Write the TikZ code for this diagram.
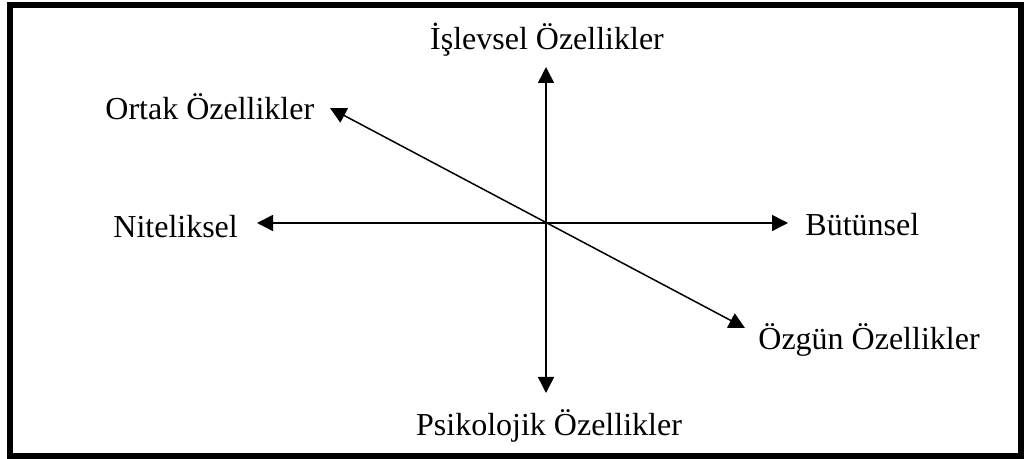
\documentclass[tikz,border=0pt]{standalone}
\usepackage{fontspec}
\setmainfont{Liberation Serif}
\usetikzlibrary{arrows.meta}

\tikzset{
  axis/.style={line width=0.75pt, {Triangle[length=8pt,width=8pt]}-{Triangle[length=8pt,width=8pt]}},
  lbl/.style={inner sep=0pt, font=\fontsize{16}{19}\selectfont}
}

\begin{document}
\begin{tikzpicture}[x=0.5pt, y=-0.5pt]
  \useasboundingbox (0,0) rectangle (1027,459);
  % frame
  \draw[line width=3pt] (10,5) rectangle (1021,456);
  % labels
  \node[lbl, anchor=base] (islev) at (547,50) {İşlevsel Özellikler};
  \node[lbl, anchor=base west] (ortak) at (105,120) {Ortak Özellikler};
  \node[lbl, anchor=base west] (nitel) at (113,238) {Niteliksel};
  \node[lbl, anchor=base west] (butun) at (805,236) {Bütünsel};
  \node[lbl, anchor=base west] (ozgun) at (758,350) {Özgün Özellikler};
  \node[lbl, anchor=base] (psiko) at (549,435) {Psikolojik Özellikler};
  % axis ends
  \coordinate (up) at (546,67);
  \coordinate (down) at (546,393);
  \coordinate (left) at (257,223);
  \coordinate (right) at (788,223);
  \coordinate (ul) at (330,108);
  \coordinate (lr) at (745,328);
  % axes
  \draw[axis] (down) -- (up);
  \draw[axis] (left) -- (right);
  \draw[axis] (ul) -- (lr);
\end{tikzpicture}
\end{document}
